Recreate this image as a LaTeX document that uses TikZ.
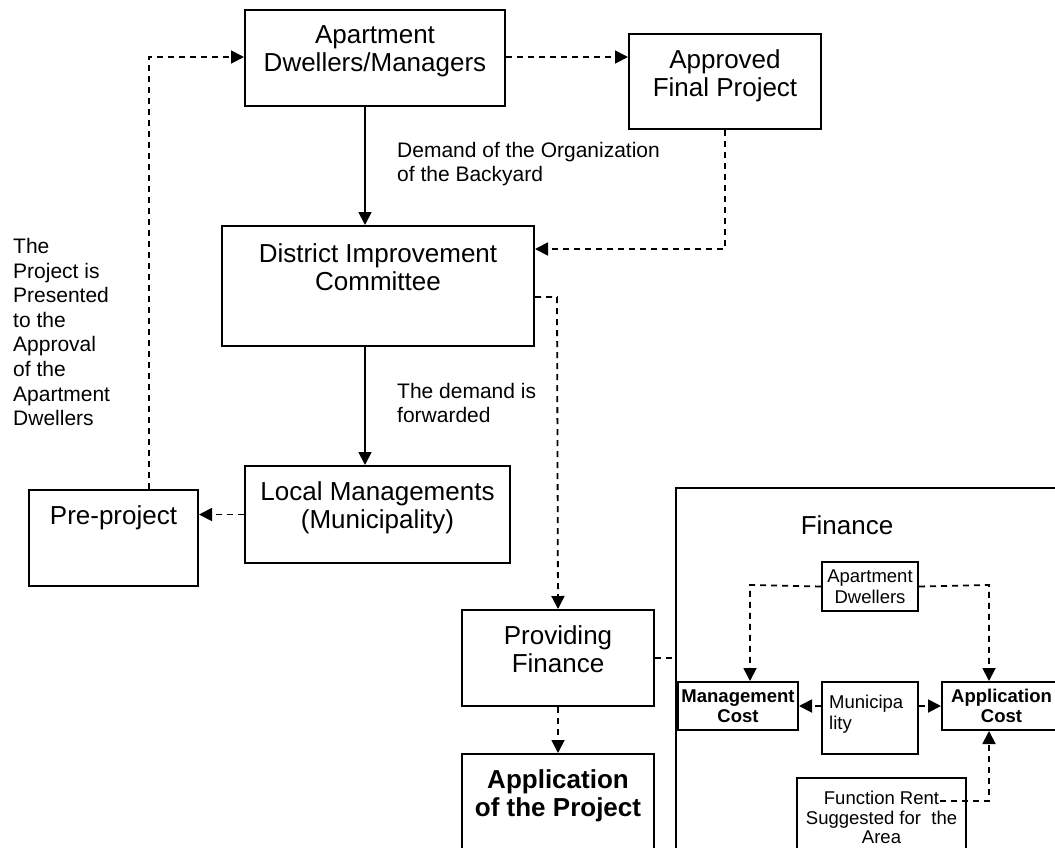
\documentclass[tikz,border=0pt]{standalone}
\usepackage{fontspec}
\setmainfont{Liberation Sans}
\usetikzlibrary{arrows.meta,calc}
\newcommand{\fbig}{\fontsize{26}{28}\selectfont}
\newcommand{\flab}{\fontsize{21}{24}\selectfont}
\newcommand{\fleft}{\fontsize{21}{24.6}\selectfont}
\newcommand{\fsmall}{\fontsize{18.5}{20.5}\selectfont}
\newcommand{\fsmallb}{\fontsize{18.5}{20}\selectfont}
\begin{document}
\begin{tikzpicture}[x=1pt,y=-1pt,
 box/.style={draw, line width=2pt, anchor=north west, inner sep=0pt},
 btext/.style={anchor=north, yshift=-16pt, align=center, font=\fbig, inner sep=0pt},
 sbox/.style={box, align=center, font=\fsmall},
 lab/.style={anchor=north west, align=left, inner sep=0pt},
 sl/.style={line width=1.8pt},
 dl/.style={line width=1.8pt, dash pattern=on 6pt off 5pt},
 arr/.style={-{Triangle[length=13pt,width=13pt]}}
]
\useasboundingbox (0,0) rectangle (1055,847);
\clip (0,0) rectangle (1055,847);

% main boxes
\node[box, minimum width=260pt, minimum height=96pt,
  label={[btext]north:{Apartment\\Dwellers/Managers}}] (apt) at (244,9) {};
\node[box, minimum width=192pt, minimum height=95pt,
  label={[btext]north:{Approved\\Final Project}}] (appr) at (628,33) {};
\node[box, minimum width=312pt, minimum height=120pt,
  label={[btext, yshift=-2pt]north:{District Improvement\\Committee}}] (dist) at (221,225) {};
\node[box, minimum width=265pt, minimum height=97pt,
  label={[btext]north:{Local Managements\\(Municipality)}}] (local) at (244,465) {};
\node[box, minimum width=169pt, minimum height=96pt,
  label={[btext]north:{Pre-project}}] (pre) at (28,489) {};
\node[box, minimum width=192pt, minimum height=96pt,
  label={[btext]north:{Providing\\Finance}}] (prov) at (461,609) {};
\node[box, minimum width=192pt, minimum height=200pt,
  label={[btext]north:{\bfseries Application\\\bfseries of the Project}}] (appl) at (461,753) {};

% finance area
\node[box, minimum width=500pt, minimum height=500pt] (fin) at (675,487) {};
\node[font=\fbig, inner sep=0pt] (fint) at (847,525) {Finance};
\node[sbox, minimum width=96pt, minimum height=49pt] (ad) at (821,561) {Apartment\\Dwellers};
\node[sbox, minimum width=120pt, minimum height=48pt, font=\fsmallb\bfseries] (mgmt) at (677,681) {Management\\Cost};
\node[box, minimum width=96pt, minimum height=72pt,
  label={[anchor=north west, xshift=8pt, yshift=-14pt, align=left, font=\fsmall, inner sep=0pt]north west:{Municipa\\lity}}] (muni) at (821,681) {};
\node[sbox, minimum width=119pt, minimum height=48pt, font=\fsmallb\bfseries] (appc) at (941,681) {Application\\Cost};
\node[box, minimum width=169pt, minimum height=150pt,
  label={[anchor=north, yshift=-14pt, align=center, font=\fontsize{18.5}{19.5}\selectfont, inner sep=0pt]north:{Function Rent\\Suggested for\ \ the\\Area}}] (fr) at (796,777) {};

% free labels
\node[lab, font=\flab] (labA) at (397,142) {Demand of the Organization\\of the Backyard};
\node[lab, font=\flab] (labB) at (397,383) {The demand is\\forwarded};
\node[lab, font=\fleft] (labC) at (13,238) {The\\Project is\\Presented\\to the\\Approval\\of the\\Apartment\\Dwellers};

% helper coordinates
\coordinate (cl) at (149,57);
\coordinate (sx) at (365,0);
\coordinate (cr) at (725,249);
\coordinate (cf) at (557,297);
\coordinate (cml) at (750,585);
\coordinate (cmr) at (989,585);
\coordinate (cfr) at (940,801);
\coordinate (cfr2) at (989,801);

% connectors
\draw[dl,arr] (pre.north -| cl) -- (cl) -- (apt.west |- cl);
\draw[dl,arr] (apt.east |- cl) -- (appr.west |- cl);
\draw[sl,arr] (apt.south -| sx) -- (dist.north -| sx);
\draw[dl,arr] (appr.south -| cr) -- (cr) -- (dist.east |- cr);
\draw[dl,arr] (dist.east |- cf) -- (cf) -- (prov.north);
\draw[sl,arr] (dist.south -| sx) -- (local.north -| sx);
\draw[dl,arr] (local.west) -- (pre.east |- local.west);
\draw[dl,arr] (prov.south) -- (appl.north);
\draw[dl] (prov.east) -- (fin.west |- prov.east);
\draw[dl,arr] (ad.west) -- (cml) -- (mgmt.north -| cml);
\draw[dl,arr] (ad.east) -- (cmr) -- (appc.north -| cmr);
\draw[dl,arr] (muni.west |- mgmt.east) -- (mgmt.east);
\draw[dl,arr] (muni.east |- appc.west) -- (appc.west);
\draw[dl,arr] (cfr) -- (cfr2) -- (appc.south -| cfr2);
\end{tikzpicture}
\end{document}
